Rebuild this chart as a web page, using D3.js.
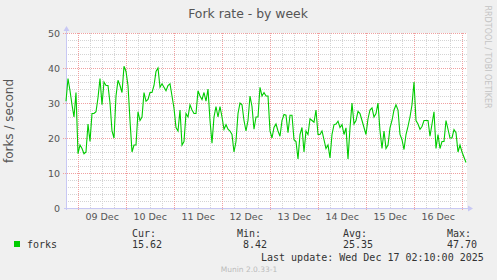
<!DOCTYPE html>
<html>
<head>
<meta charset="utf-8">
<script src="https://cdn.jsdelivr.net/npm/d3@7"></script>
<style>
  body { margin: 0; background: #f0f0f0; }
  svg { display: block; font-family: "DejaVu Sans", sans-serif; }
  .mono { font-family: "DejaVu Sans Mono", monospace; }
</style>
</head>
<body>
<div id="chart"></div>
<script>
// hourly samples, 08 Dec 18:10 -> 17 Dec 02:10 (UTC)
var startTime = Date.UTC(2025, 11, 8, 18, 10);
var endTime = Date.UTC(2025, 11, 17, 2, 10);

var forks = [
  30.5, 37, 33.5, 29.5, 26, 33, 15.5, 18, 17, 15.5,
  16, 24, 19, 27, 27, 27.5, 31.5, 37, 29.5, 36,
  35, 35, 30, 22, 20, 32, 36.5, 35, 33, 40.5,
  39, 35, 25, 16, 18, 18, 27.5, 25, 26, 33,
  30.5, 31, 33, 33, 35, 39, 40, 34.5, 35.5, 34.5,
  33.5, 35, 35.5, 32, 28.5, 23, 22, 28, 18, 19,
  27, 26, 29.5, 28, 27, 27, 33.5, 32, 31, 33,
  30.5, 34, 25, 18.5, 26, 29, 26, 29, 26, 22.5,
  23.8, 22.5, 22, 21, 16, 19, 27, 30, 29.5, 25,
  22, 25, 32, 29, 22.5, 26, 26, 34.5, 32, 33,
  32, 32, 22, 20, 23, 24, 22, 20.5, 25, 26.7,
  26.5, 21.5, 26.5, 26.5, 19.5, 19, 14, 21, 23, 16,
  22, 21, 25.5, 25, 24.5, 28, 21, 21, 22, 19.5,
  17, 18, 14.3, 21, 23.8, 24, 24.8, 23, 23.8, 21,
  22.9, 14, 22.9, 30, 24, 25, 27.6, 27, 25, 23,
  21, 25.5, 28, 28.6, 26, 27, 30, 22, 17, 22,
  17, 18, 22.9, 25, 28, 29.5, 28, 21, 19.5, 16.7,
  21, 23.3, 26, 29.5, 36, 25, 24, 22.5, 23.3, 25,
  25, 25, 20.5, 24, 27.5, 17, 21, 17, 19, 19,
  25, 22.5, 20, 20, 22.4, 21.5, 16, 18, 16, 14.5,
  13
];

var yTicks = [0, 10, 20, 30, 40, 50];
var dayLabels = ["09 Dec", "10 Dec", "11 Dec", "12 Dec", "13 Dec", "14 Dec", "15 Dec", "16 Dec"];
var legendHeads = ["Cur:", "Min:", "Avg:", "Max:"];
var legendValues = ["15.62", " 8.42", "25.35", "47.70"];

var svgWidth = 497, svgHeight = 280;
var plot = { left: 66, right: 466, top: 33, bottom: 208 };

var svg = d3.select("#chart").append("svg")
  .attr("width", svgWidth)
  .attr("height", svgHeight);

svg.append("rect")
  .attr("width", svgWidth).attr("height", svgHeight)
  .attr("fill", "#f0f0f0");

var x = d3.scaleUtc()
  .domain([startTime, endTime])
  .range([plot.left, plot.right]);

var y = d3.scaleLinear()
  .domain([0, 50])
  .range([plot.bottom, plot.top]);

// white canvas
svg.append("rect")
  .attr("x", plot.left).attr("y", plot.top)
  .attr("width", plot.right - plot.left + 1)
  .attr("height", plot.bottom - plot.top)
  .attr("fill", "#ffffff");

var grid = svg.append("g").attr("shape-rendering", "crispEdges");

// minor grid: 6 hours / 2 units
var minorTimes = d3.utcHour.every(6).range(new Date(startTime), new Date(endTime))
  .filter(d => d.getUTCHours() !== 0);
grid.selectAll(".vminor").data(minorTimes).enter().append("line")
  .attr("x1", d => Math.round(x(d)) + 0.5).attr("x2", d => Math.round(x(d)) + 0.5)
  .attr("y1", plot.top).attr("y2", plot.bottom)
  .attr("stroke", "#d4d4d4").attr("stroke-dasharray", "1,1");

var minorVals = d3.range(2, 50, 2).filter(v => v % 10 !== 0);
grid.selectAll(".hminor").data(minorVals).enter().append("line")
  .attr("x1", plot.left).attr("x2", plot.right + 1)
  .attr("y1", d => Math.round(y(d)) + 0.5).attr("y2", d => Math.round(y(d)) + 0.5)
  .attr("stroke", "#d4d4d4").attr("stroke-dasharray", "1,1");

// major grid: days / 10 units
var dayTimes = d3.utcDay.range(new Date(startTime), new Date(endTime));
grid.selectAll(".vmajor").data(dayTimes).enter().append("line")
  .attr("x1", d => Math.round(x(d)) + 0.5).attr("x2", d => Math.round(x(d)) + 0.5)
  .attr("y1", plot.top).attr("y2", plot.bottom + 3)
  .attr("stroke", "#f0a0a0").attr("stroke-dasharray", "1,1");

grid.selectAll(".hmajor").data(yTicks.filter(v => v > 0)).enter().append("line")
  .attr("x1", plot.left - 3).attr("x2", plot.right + 1)
  .attr("y1", d => Math.round(y(d)) + 0.5).attr("y2", d => Math.round(y(d)) + 0.5)
  .attr("stroke", "#f0a0a0").attr("stroke-dasharray", "1,1");

// axes (labels only, rrdtool style)
var yAxis = d3.axisLeft(y).tickValues(yTicks).tickSize(0).tickPadding(0);
var gy = svg.append("g")
  .attr("transform", `translate(${plot.left - 6}, 0)`)
  .call(yAxis);
gy.select(".domain").remove();
gy.selectAll("text")
  .attr("dy", "0.35em")
  .style("font-family", "DejaVu Sans")
  .style("font-size", "9.5px")
  .attr("fill", "#555");

var noonTimes = dayTimes.map(d => d3.utcHour.offset(d, 12));
var xAxis = d3.axisBottom(x).tickValues(noonTimes)
  .tickFormat((d, i) => dayLabels[i]).tickSize(0).tickPadding(0);
var gx = svg.append("g")
  .attr("transform", `translate(0, ${plot.bottom + 5})`)
  .call(xAxis);
gx.select(".domain").remove();
gx.selectAll("text")
  .attr("dy", "0.71em")
  .style("font-family", "DejaVu Sans")
  .style("font-size", "9.5px")
  .attr("fill", "#555");

// axis lines with arrows
var axisColor = "#c8c8f4";
svg.append("line")
  .attr("x1", plot.left + 0.5).attr("x2", plot.left + 0.5)
  .attr("y1", plot.bottom + 2).attr("y2", plot.top - 4)
  .attr("stroke", axisColor).attr("shape-rendering", "crispEdges");
svg.append("line")
  .attr("x1", plot.left - 2).attr("x2", plot.right + 4)
  .attr("y1", plot.bottom + 0.5).attr("y2", plot.bottom + 0.5)
  .attr("stroke", axisColor).attr("shape-rendering", "crispEdges");
svg.append("path")
  .attr("d", `M${plot.left - 2.5},${plot.top - 2} L${plot.left + 3.5},${plot.top - 2} L${plot.left + 0.5},${plot.top - 7} Z`)
  .attr("fill", axisColor);
svg.append("path")
  .attr("d", `M${plot.right + 2},${plot.bottom - 2.5} L${plot.right + 2},${plot.bottom + 3.5} L${plot.right + 7},${plot.bottom + 0.5} Z`)
  .attr("fill", axisColor);

// the series
var line = d3.line()
  .x((d, i) => x(d3.utcHour.offset(new Date(startTime), i)))
  .y(d => y(d));

svg.append("path")
  .datum(forks)
  .attr("d", line)
  .attr("fill", "none")
  .attr("stroke", "#00cc00")
  .attr("stroke-width", 1.1);

// title and labels
svg.append("text")
  .attr("x", 248).attr("y", 18)
  .attr("text-anchor", "middle")
  .style("font-size", "12.4px")
  .attr("fill", "#555")
  .text("Fork rate - by week");

svg.append("text")
  .attr("transform", "translate(13, 121) rotate(-90)")
  .attr("text-anchor", "middle")
  .style("font-size", "12px")
  .attr("fill", "#555")
  .text("forks / second");

svg.append("text")
  .attr("transform", "translate(485, 57) rotate(90)")
  .attr("text-anchor", "middle")
  .style("font-size", "8px")
  .attr("fill", "#c4c4c4")
  .text("RRDTOOL / TOBI OETIKER");

// legend
var legendX = [132, 237, 343, 447];
svg.append("rect")
  .attr("x", 14).attr("y", 241).attr("width", 6).attr("height", 6)
  .attr("fill", "#00cc00");
svg.append("text").attr("class", "mono")
  .attr("x", 27).attr("y", 248)
  .style("font-size", "10px").attr("fill", "#333")
  .text("forks");

svg.selectAll(".lhead").data(legendHeads).enter().append("text")
  .attr("class", "mono")
  .attr("x", (d, i) => legendX[i]).attr("y", 237)
  .style("font-size", "10px").attr("fill", "#333")
  .text(d => d);

svg.selectAll(".lval").data(legendValues).enter().append("text")
  .attr("class", "mono")
  .attr("x", (d, i) => legendX[i]).attr("y", 248)
  .style("font-size", "10px").attr("fill", "#333")
  .style("white-space", "pre")
  .text(d => d);

svg.append("text").attr("class", "mono")
  .attr("x", 261).attr("y", 261)
  .style("font-size", "10px").attr("fill", "#333")
  .text("Last update: Wed Dec 17 02:10:00 2025");

svg.append("text")
  .attr("x", 249).attr("y", 272)
  .attr("text-anchor", "middle")
  .style("font-size", "7.5px")
  .attr("fill", "#bbb")
  .text("Munin 2.0.33-1");
</script>
</body>
</html>
